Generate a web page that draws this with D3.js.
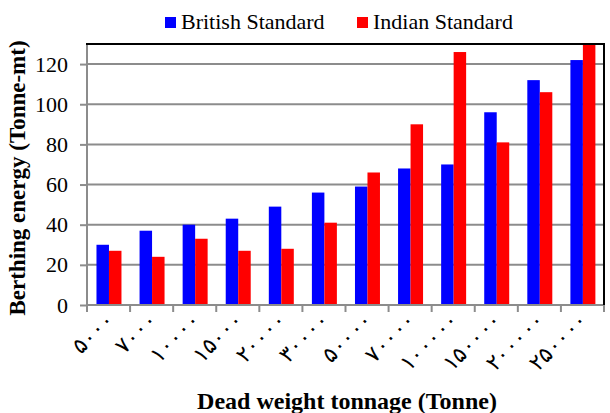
<!DOCTYPE html>
<meta charset="utf-8">
<head>
    <title>Berthing energy</title>
</head>
<body style="margin:0; background-color:#ffffff">
    <svg width="610" height="413" font-family="Liberation Serif"></svg>
</body>
<script src="https://d3js.org/d3.v7.min.js"></script>
<script>
    var categories = ["۵۰۰۰", "۷۰۰۰", "۱۰۰۰۰", "۱۵۰۰۰", "۲۰۰۰۰", "۳۰۰۰۰", "۵۰۰۰۰", "۷۰۰۰۰", "۱۰۰۰۰۰", "۱۵۰۰۰۰", "۲۰۰۰۰۰", "۲۵۰۰۰۰"];
    var british = [30, 37, 40, 43, 49, 56, 59, 68, 70, 96, 112, 122];
    var indian = [27, 24, 33, 27, 28, 41, 66, 90, 126, 81, 106, 132];
    var seriesNames = ["British Standard", "Indian Standard"];
    var yTicks = [0, 20, 40, 60, 80, 100, 120];

    var font = "Liberation Serif";
    var gridColour = "#8c8c8c";

    var svg = d3.select("svg"),
        margin = { top: 44, right: 6, bottom: 108, left: 87 },
        width = +svg.attr("width") - margin.left - margin.right,
        height = +svg.attr("height") - margin.top - margin.bottom;

    var colour = d3.scaleOrdinal().domain(seriesNames).range(["#0000ff", "#ff0000"]);

    var x = d3.scaleBand().domain(categories).range([0, width]);
    var xs = d3.scaleBand().domain(seriesNames).range([x.bandwidth() * 0.22, x.bandwidth() * 0.8]);
    var y = d3.scaleLinear().domain([0, 130]).range([height, 0]);

    var g = svg.append("g")
        .attr("transform", "translate(" + margin.left + "," + margin.top + ")");

    // gridlines
    g.append("g")
        .selectAll("line")
        .data(yTicks.slice(1))
        .enter()
        .append("line")
        .attr("x1", 0)
        .attr("x2", width)
        .attr("y1", d => y(d))
        .attr("y2", d => y(d))
        .attr("stroke", gridColour)
        .attr("stroke-width", 2);

    // bars
    var rows = categories.map((c, i) => ({ cat: c, values: [british[i], indian[i]] }));

    g.append("defs").append("clipPath").attr("id", "clip")
        .append("rect").attr("x", 0).attr("y", 0).attr("width", width).attr("height", height);

    g.append("g")
        .attr("clip-path", "url(#clip)")
        .selectAll("g")
        .data(rows)
        .enter()
        .append("g")
        .attr("transform", d => "translate(" + x(d.cat) + ",0)")
        .selectAll("rect")
        .data(d => seriesNames.map((s, j) => ({ s: s, v: d.values[j] })))
        .enter()
        .append("rect")
        .attr("x", d => xs(d.s))
        .attr("width", xs.bandwidth())
        .attr("y", d => y(d.v))
        .attr("height", d => height - y(d.v))
        .attr("fill", d => colour(d.s));

    // y axis
    g.append("g")
        .call(d3.axisLeft(y).tickValues(yTicks).tickSize(7).tickPadding(12).tickSizeOuter(0))
        .attr("font-family", font)
        .attr("font-size", 22)
        .call(a => a.select(".domain").attr("d", "M0," + height + "V0").attr("stroke", gridColour).attr("stroke-width", 2))
        .call(a => a.selectAll("line").attr("stroke", gridColour).attr("stroke-width", 2))
        .call(a => a.selectAll("text").attr("fill", "#000"));

    // x axis: ticks at category boundaries
    var xa = g.append("g")
        .attr("transform", "translate(0," + height + ")");

    xa.append("line")
        .attr("x1", 0).attr("x2", width)
        .attr("y1", 0).attr("y2", 0)
        .attr("stroke", gridColour)
        .attr("stroke-width", 2);

    xa.selectAll("line.tick")
        .data(categories.concat(["end"]))
        .enter()
        .append("line")
        .attr("class", "tick")
        .attr("x1", (d, i) => i * x.step())
        .attr("x2", (d, i) => i * x.step())
        .attr("y1", 0)
        .attr("y2", 7)
        .attr("stroke", gridColour)
        .attr("stroke-width", 2);

    xa.selectAll("text")
        .data(categories)
        .enter()
        .append("text")
        .attr("transform", d => "translate(" + (x(d) + x.bandwidth() / 2 + 1) + ",11) rotate(-45)")
        .attr("text-anchor", "end")
        .attr("dy", "0.35em")
        .attr("font-family", font)
        .attr("font-size", 22)
        .text(d => d);

    // plot border top and right
    g.append("path")
        .attr("d", "M-1,0H" + width + "V" + height)
        .attr("fill", "none")
        .attr("stroke", "#000")
        .attr("stroke-width", 2);

    // axis titles
    svg.append("text")
        .attr("transform", "translate(25,178) rotate(-90)")
        .attr("text-anchor", "middle")
        .attr("font-family", font)
        .attr("font-size", 23)
        .attr("font-weight", 700)
        .text("Berthing energy (Tonne-mt)");

    svg.append("text")
        .attr("x", 347)
        .attr("y", 409)
        .attr("text-anchor", "middle")
        .attr("font-family", font)
        .attr("font-size", 24)
        .attr("font-weight", 700)
        .text("Dead weight tonnage (Tonne)");

    // legend
    var legendX = [165, 357];
    var legend = svg.append("g")
        .selectAll("g")
        .data(seriesNames)
        .enter()
        .append("g")
        .attr("transform", (d, i) => "translate(" + legendX[i] + ",0)");

    legend.append("rect")
        .attr("x", 0).attr("y", 17)
        .attr("width", 11).attr("height", 11)
        .attr("fill", d => colour(d));

    legend.append("text")
        .attr("x", 16).attr("y", 29)
        .attr("font-family", font)
        .attr("font-size", 22)
        .text(d => d);
</script>
